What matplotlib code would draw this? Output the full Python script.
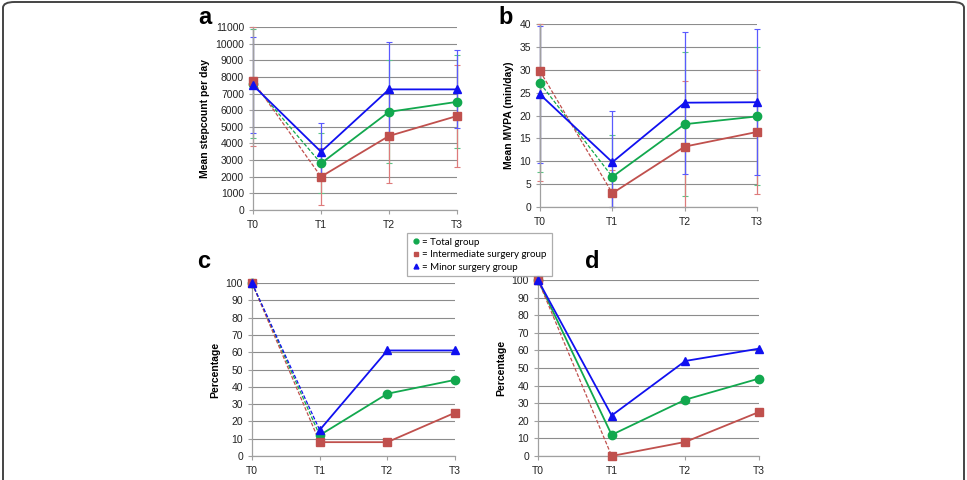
import matplotlib
matplotlib.use("Agg")
import matplotlib.pyplot as plt
from matplotlib.lines import Line2D
from matplotlib.patches import FancyBboxPatch

plt.rcParams['font.family'] = ['Liberation Sans', 'DejaVu Sans']

times = ["T0", "T1", "T2", "T3"]
groups = ["Total group", "Intermediate surgery group", "Minor surgery group"]

# Panel a: mean stepcount per day
a_total = [7600, 2800, 5900, 6500]
a_inter = [7750, 2000, 4450, 5650]
a_minor = [7500, 3500, 7250, 7250]
a_total_err = [3300, 1800, 3100, 2800]
a_inter_err = [3900, 1700, 2850, 3050]
a_minor_err = [2900, 1700, 2850, 2350]

# Panel b: mean MVPA (min/day)
b_total = [27.1, 6.6, 18.1, 19.8]
b_inter = [29.7, 3.0, 13.2, 16.4]
b_minor = [24.6, 9.8, 22.8, 22.9]
b_total_err = [19.5, 9.1, 15.7, 15.1]
b_inter_err = [24.0, 5.0, 14.3, 13.6]
b_minor_err = [15.0, 11.2, 15.5, 15.9]

# Panel c: percentage
c_total = [100, 12, 36, 44]
c_inter = [100, 8, 8, 25]
c_minor = [100, 15, 61, 61]

# Panel d: percentage
d_total = [100, 12, 32, 44]
d_inter = [100, 0, 8, 25]
d_minor = [100, 23, 54, 61]

colors = {"total": "#12a84e", "inter": "#c0504d", "minor": "#1010f0"}
err_colors = {"total": "#5cc486", "inter": "#de7b7b", "minor": "#5a5aff"}
markers = {"total": "o", "inter": "s", "minor": "^"}
msizes = {"total": 6.0, "inter": 6.0, "minor": 6.0}

W, H = 967, 480
fig = plt.figure(figsize=(W / 100, H / 100), dpi=100)


def px_axes(left, right, bottom, top):
    return fig.add_axes([left / W, 1 - bottom / H, (right - left) / W, (bottom - top) / H])


def style_axes(ax, ymax, ystep, ylabel, letter, letter_xy):
    x = list(range(len(times)))
    ax.set_xlim(0, 3)
    ax.set_ylim(0, ymax)
    ax.set_yticks(list(range(0, ymax + 1, ystep)))
    ax.set_xticks(x)
    ax.set_xticklabels(times)
    ax.yaxis.grid(True, color="#8c8c8c", lw=0.8)
    ax.set_axisbelow(True)
    for s in ("top", "right"):
        ax.spines[s].set_visible(False)
    for s in ("left", "bottom"):
        ax.spines[s].set_color("#a0a0a0")
        ax.spines[s].set_linewidth(0.9)
    ax.tick_params(axis="both", colors="#a0a0a0", length=3, width=0.8, labelsize=7.5,
                   labelcolor="#222222")
    ax.tick_params(axis="x", pad=4)
    ax.set_ylabel(ylabel, fontsize=7.5, fontweight="bold", labelpad=4)
    fig.text(letter_xy[0] / W, 1 - letter_xy[1] / H, letter, fontsize=17,
             fontweight="bold", ha="center", va="center")


def draw_series(ax, key, vals, errs, dashed_first, ymax):
    x = list(range(len(vals)))
    if errs is not None:
        lo = [min(e, v - 0) for v, e in zip(vals, errs)]
        hi = [min(e, ymax - v) for v, e in zip(vals, errs)]
        ax.errorbar(x, vals, yerr=[lo, hi], fmt="none", ecolor=err_colors[key],
                    elinewidth=0.9, capsize=2, capthick=0.8, zorder=2, clip_on=False)
    ls0 = (0, (3, 1.5)) if dashed_first else "-"
    lw0 = 0.9 if dashed_first else 1.3
    ax.plot(x[:2], vals[:2], color=colors[key], ls=ls0, lw=lw0, zorder=3, clip_on=False)
    ax.plot(x[1:], vals[1:], color=colors[key], ls="-", lw=1.3, zorder=3, clip_on=False)
    ax.plot(x, vals, ls="none", marker=markers[key], ms=msizes[key], color=colors[key],
            mec=colors[key], zorder=4, clip_on=False)


# Panel a
ax_a = px_axes(253, 457, 210, 27)
style_axes(ax_a, 11000, 1000, "Mean stepcount per day", "a", (205, 18))
draw_series(ax_a, "total", a_total, a_total_err, True, 11000)
draw_series(ax_a, "inter", a_inter, a_inter_err, True, 11000)
draw_series(ax_a, "minor", a_minor, a_minor_err, False, 11000)

# Panel b
ax_b = px_axes(540, 757, 207, 24)
style_axes(ax_b, 40, 5, "Mean MVPA (min/day)", "b", (506, 18))
draw_series(ax_b, "total", b_total, b_total_err, True, 40)
draw_series(ax_b, "inter", b_inter, b_inter_err, True, 40)
draw_series(ax_b, "minor", b_minor, b_minor_err, False, 40)

# Panel c
ax_c = px_axes(252, 455, 456, 283)
style_axes(ax_c, 100, 10, "Percentage", "c", (204, 262))
draw_series(ax_c, "total", c_total, None, True, 100)
draw_series(ax_c, "inter", c_inter, None, True, 100)
draw_series(ax_c, "minor", c_minor, None, True, 100)

# Panel d
ax_d = px_axes(538, 759, 456, 280)
style_axes(ax_d, 100, 10, "Percentage", "d", (592, 261))
draw_series(ax_d, "total", d_total, None, False, 100)
draw_series(ax_d, "inter", d_inter, None, True, 100)
draw_series(ax_d, "minor", d_minor, None, False, 100)

# Legend
handles = [Line2D([], [], ls="none", marker=markers[k], color=colors[k], ms=3.5)
           for k in ("total", "inter", "minor")]
labels = ["= " + g for g in groups]
leg = fig.legend(handles, labels, loc="upper left",
                 bbox_to_anchor=(402 / W, 1 - 228 / H),
                 prop={"family": ["Lato", "DejaVu Sans"], "size": 7},
                 handlelength=0.8, handletextpad=0.3, labelspacing=0.35,
                 borderpad=0.5, frameon=True, fancybox=False, edgecolor="#999999")
leg.get_frame().set_linewidth(0.9)

# Outer frame
frame = FancyBboxPatch((3 / W, -0.1), 1 - 6 / W, 1.1 - 2 / H,
                       boxstyle="round,pad=0,rounding_size=0.012",
                       transform=fig.transFigure, fill=False, ec="#444444", lw=1.4)
fig.patches.append(frame)

fig.savefig("out.png", dpi=100)
